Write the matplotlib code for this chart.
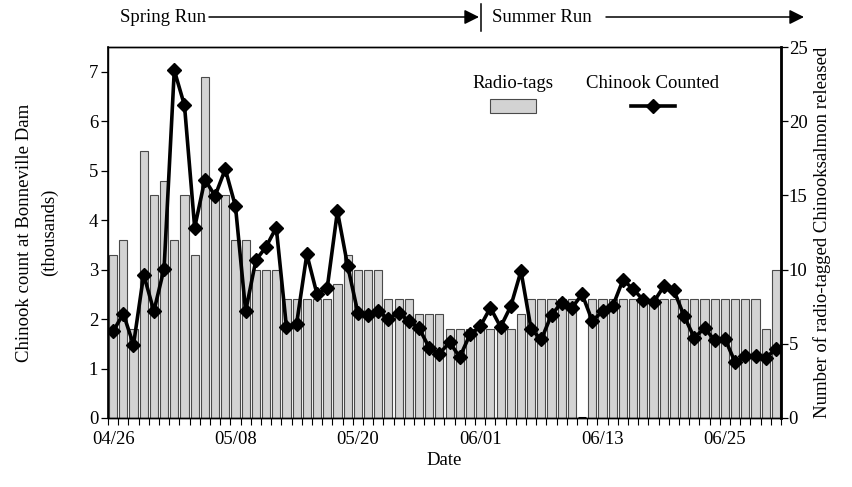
import numpy as np
import matplotlib
matplotlib.use('Agg')
import matplotlib.pyplot as plt
from matplotlib.patches import Rectangle
from matplotlib.lines import Line2D
import pandas as pd

plt.rcParams['font.family'] = ['Liberation Serif', 'DejaVu Serif']
plt.rcParams['font.size'] = 13.5

# ---- data ----
dates = pd.date_range('2010-04-26', periods=66).strftime('%m/%d').tolist()
radio_tags = [11, 12, 6, 18, 15, 16, 12, 15, 11, 23, 15, 15, 12, 12, 10, 10, 10,
              8, 8, 8, 8, 8, 9, 11, 10, 10, 10, 8, 8, 8, 7, 7, 7,
              6, 6, 6, 6, 6, 6, 6, 7, 8, 8, 8, 8, 8, 0,
              8, 8, 8, 8, 8, 8, 8, 8, 8, 8, 8, 8, 8, 8, 8, 8, 8, 6, 10]
chinook = [1.75, 2.11, 1.48, 2.90, 2.16, 3.02, 7.03, 6.32, 3.85, 4.82, 4.49, 5.03,
           4.28, 2.16, 3.19, 3.46, 3.85, 1.84, 1.91, 3.31, 2.50, 2.63, 4.18, 3.08,
           2.13, 2.09, 2.16, 2.00, 2.13, 1.96, 1.82, 1.42, 1.30, 1.53, 1.23, 1.69,
           1.85, 2.23, 1.84, 2.26, 2.97, 1.79, 1.59, 2.09, 2.33, 2.23, 2.50, 1.96,
           2.16, 2.26, 2.79, 2.61, 2.38, 2.34, 2.66, 2.58, 2.06, 1.62, 1.82, 1.57,
           1.60, 1.13, 1.25, 1.25, 1.21, 1.40]
tick_labels = ['04/26', '05/08', '05/20', '06/01', '06/13', '06/25']
left_ticks = [0, 1, 2, 3, 4, 5, 6, 7]
right_ticks = [0, 5, 10, 15, 20, 25]

W, H = 853, 487
fig = plt.figure(figsize=(W / 100, H / 100), dpi=100)

def fx(px):
    return px / W

def fy(py):
    return 1 - py / H

x = np.arange(len(dates))
label_pos = [dates.index(t) for t in tick_labels]

ax = fig.add_axes([fx(108), fy(418), fx(781) - fx(108), fy(47) - fy(418)])
bars = ax.bar(x, radio_tags, width=0.8, color='#d3d3d3', edgecolor='#4a4a4a',
              linewidth=0.8, zorder=2)
for b, v in zip(bars, radio_tags):
    if v == 0:
        b.set_edgecolor('black')
        b.set_linewidth(2.2)
ax.set_xlim(-0.5, len(dates) - 0.5)
ax.set_ylim(0, 25)
ax.set_yticks(right_ticks)

ax2 = ax.twinx()
ax2.plot(x, chinook, color='black', lw=2.6, marker='D', ms=7.5, zorder=3)
ax2.set_ylim(0, 7.5)
ax2.set_yticks(left_ticks)

# swap sides: bars on right axis, line on left axis
ax.yaxis.tick_right()
ax.yaxis.set_label_position('right')
ax2.yaxis.tick_left()
ax2.yaxis.set_label_position('left')

ax.set_ylabel('Number of radio-tagged Chinooksalmon released', labelpad=4)
ax2.set_ylabel('Chinook count at Bonneville Dam\n(thousands)', labelpad=22,
               linespacing=1.6)

# x axis
ax.set_xticks(label_pos)
ax.set_xticklabels(tick_labels)
ax.set_xticks(np.arange(-0.5, len(dates), 1.0), minor=True)
ax.tick_params(axis='x', which='major', length=0, pad=9)
ax.tick_params(axis='x', which='minor', length=5, direction='out', width=0.8)
ax.set_xlabel('Date', labelpad=3)

ax.tick_params(axis='y', length=5, width=0.9, direction='out', pad=0.5)
ax2.tick_params(axis='y', length=5, width=0.9, direction='out', pad=2)

for a in (ax, ax2):
    for s in a.spines.values():
        s.set_linewidth(1.0)
ax2.spines['right'].set_linewidth(2.0)
ax2.spines['left'].set_linewidth(1.2)

# legend (manual, text above handles)
fig.text(fx(513), fy(83), 'Radio-tags', ha='center', va='center')
fig.add_artist(Rectangle((fx(490), fy(113)), fx(536) - fx(490), fy(99) - fy(113),
                         transform=fig.transFigure, facecolor='#d3d3d3',
                         edgecolor='#4a4a4a', linewidth=0.8))
fig.text(fx(652), fy(83), 'Chinook Counted', ha='center', va='center')
fig.add_artist(Line2D([fx(631), fx(675)], [fy(106), fy(106)],
                      transform=fig.transFigure, color='black', lw=2.6))
fig.add_artist(Line2D([fx(653)], [fy(106)], transform=fig.transFigure,
                      color='black', marker='D', ms=7.5, lw=0))

# run annotations
ytop = fy(17)
fig.text(fx(206), ytop, 'Spring Run', ha='right', va='center')
ax.annotate('', xy=(fx(479), ytop), xytext=(fx(209), ytop),
            xycoords='figure fraction', textcoords='figure fraction',
            arrowprops=dict(arrowstyle='-|>', color='black', lw=1.1,
                            mutation_scale=22, shrinkA=0, shrinkB=0))
fig.add_artist(Line2D([fx(481), fx(481)], [fy(4), fy(31)],
                      transform=fig.transFigure, color='black', lw=1.1))
fig.text(fx(492), ytop, 'Summer Run', ha='left', va='center')
ax.annotate('', xy=(fx(804), ytop), xytext=(fx(606), ytop),
            xycoords='figure fraction', textcoords='figure fraction',
            arrowprops=dict(arrowstyle='-|>', color='black', lw=1.1,
                            mutation_scale=22, shrinkA=0, shrinkB=0))

fig.savefig('out.png', dpi=100)
